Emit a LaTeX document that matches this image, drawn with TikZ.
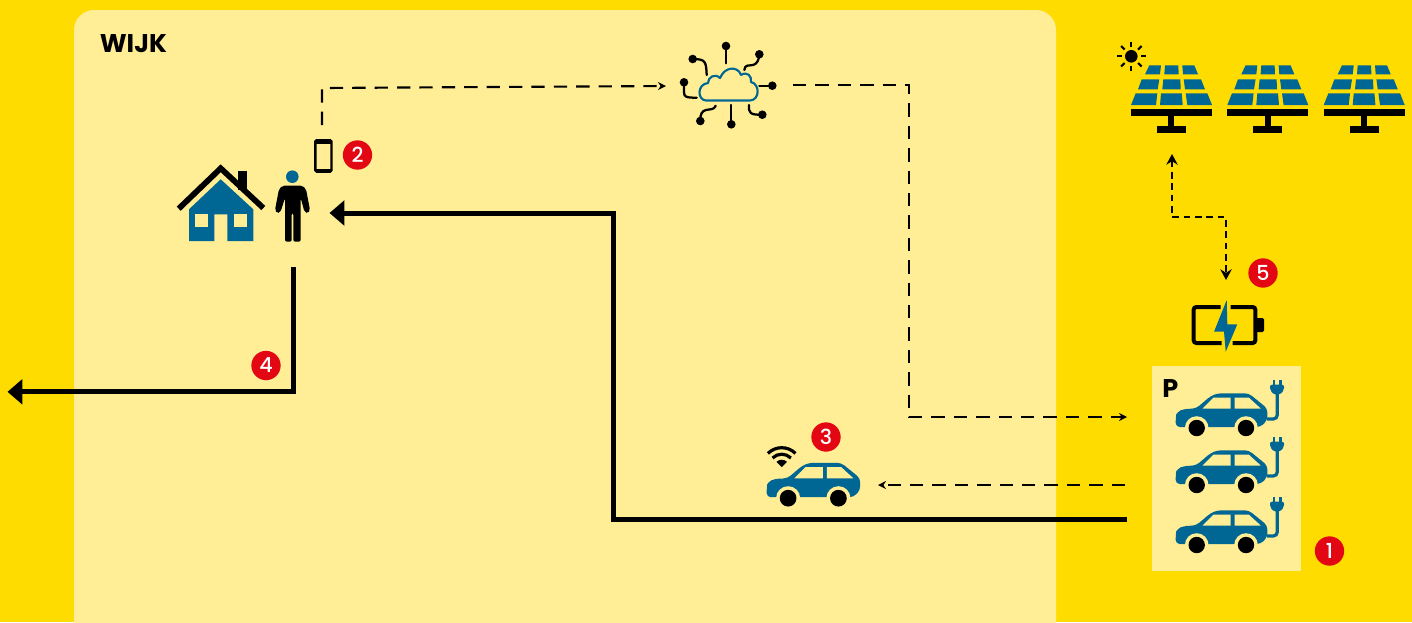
\documentclass[tikz,border=0pt]{standalone}
\usepackage{fontspec}
\setmainfont{Poppins}
\newfontfamily\markfont{Poppins Medium}
\usetikzlibrary{arrows.meta}
\definecolor{sunY}{HTML}{FFDC00}
\definecolor{paleY}{HTML}{FFEE95}
\definecolor{iconB}{HTML}{006794}
\definecolor{markR}{HTML}{E30613}
\tikzset{
  marker/.style={circle,fill=markR,text=white,minimum size=22pt,inner sep=0pt,font=\markfont\fontsize{15.5}{15.5}\selectfont},
  thickline/.style={line width=3.75pt,-{Triangle[length=11.2pt,width=18.5pt]}},
  dashline/.style={line width=1.6pt,dash pattern=on 10pt off 6.8pt,-{Stealth[length=6pt,width=6pt]}},
  dotline/.style={line width=1.7pt,dash pattern=on 5pt off 3.5pt,{Stealth[length=8pt,width=8.5pt]}-{Stealth[length=8pt,width=8.5pt]}},
  label/.style={font=\bfseries\fontsize{19.2}{20}\selectfont,inner sep=0pt},
  anchorpt/.style={inner sep=0pt,minimum size=0pt},
  car/.pic={
    \fill[iconB,rounded corners=3pt] (0,34) -- (0,24) -- (1,19) -- (8,16) -- (20.3,15.5) -- (35,3) -- (42,0.3) -- (73,0.3) -- (91.7,15.5) -- (91.7,27) -- (85,34) -- cycle;
    \fill[pic actions] (27,15.5) -- (38,4.5) -- (55,4.5) -- (55,15.5) -- cycle;
    \fill[pic actions] (59,4.5) -- (73,4.5) -- (85,15.5) -- (59,15.5) -- cycle;
    \fill[pic actions] (21,35) circle (11.8);
    \fill[pic actions] (70.3,35) circle (11.8);
    \fill[black] (21,35) circle (8.2);
    \fill[black] (70.3,35) circle (8.2);
  },
  plug/.pic={
    \draw[iconB,line width=2.4pt,rounded corners=3pt] (0,26) -- (10.3,26) -- (10.3,0);
    \fill[iconB,rounded corners=1.5pt] (3,-8.3) -- (17,-8.3) -- (17,-3) -- (13,1.7) -- (7,1.7) -- (3,-3) -- cycle;
    \fill[iconB] (5.5,-13.3) rectangle (8,-7);
    \fill[iconB] (12,-13.3) rectangle (14.5,-7);
  },
  panel/.pic={
    \fill[iconB] (18.3,0) -- (30,0) -- (29,9) -- (14,9) -- cycle;
    \fill[iconB] (34,0) -- (47.3,0) -- (47.7,9) -- (33.3,9) -- cycle;
    \fill[iconB] (51.3,0) -- (63.3,0) -- (67,9) -- (52,9) -- cycle;
    \fill[iconB] (10.7,14) -- (28.3,14) -- (26.7,24) -- (7,24) -- cycle;
    \fill[iconB] (32.3,14) -- (49.3,14) -- (49.7,24) -- (31.3,24) -- cycle;
    \fill[iconB] (52.7,14) -- (70,14) -- (74,24) -- (54,24) -- cycle;
    \fill[iconB] (4.7,28) -- (26.3,28) -- (25,39.7) -- (0,39.7) -- cycle;
    \fill[iconB] (30,28) -- (50.7,28) -- (51.7,39.7) -- (29,39.7) -- cycle;
    \fill[iconB] (54.7,28) -- (76.3,28) -- (81,39.7) -- (56.3,39.7) -- cycle;
    \fill[black] (0,44) rectangle (81,50.7);
    \fill[black] (37.3,50.7) rectangle (43.3,61.5);
    \fill[black] (26,61) rectangle (55,67.3);
  }
}
\begin{document}
\begin{tikzpicture}[x=0.75pt,y=-0.75pt]
\useasboundingbox (0,0) rectangle (1412,622);
\begin{scope}
\clip (0,0) rectangle (1412,622);
\fill[sunY] (0,0) rectangle (1412,622);
\fill[paleY,rounded corners=15pt] (74,10) rectangle (1056,660);
\fill[paleY] (1152,366) rectangle (1301,571);
\end{scope}

\node[label,anchor=west] (wijk) at (99.5,44) {WIJK};
\node[label,anchor=west] (parkP) at (1162,389) {P};

% house
\fill[iconB] (220.7,179.3) -- (253.3,209.3) -- (253.3,241) -- (227.3,241) -- (227.3,214.3) -- (214.3,214.3) -- (214.3,241) -- (189,241) -- (189,209.3) -- cycle;
\fill[paleY] (195.3,214.3) rectangle (208,227.3);
\fill[paleY] (234,214.3) rectangle (246.7,227.3);
\fill[black] (238.3,170.7) rectangle (246.7,190);
\draw[black,line width=4.3pt,miter limit=10] (178.7,208.7) -- (220.7,168.3) -- (263.3,208);
\node[anchorpt] (house) at (221,205) {};
% person
\fill[iconB] (292.3,176.7) circle (6.3);
\fill[black,rounded corners=1.5pt] (283,185.5) -- (302,185.5) -- (306,189) -- (310,210) -- (308,213.5) -- (304.5,212) -- (300.7,198) -- (300.7,241.7) -- (293.3,241.7) -- (293.3,213) -- (291.7,213) -- (291.7,241.7) -- (285,241.7) -- (285,198) -- (280.5,212) -- (277,213.5) -- (275,210) -- (279,189) -- cycle;
\node[anchorpt] (person) at (292,207) {};
% phone
\draw[black,line width=1.8pt,rounded corners=1pt] (315.3,140.2) rectangle (331.5,171.6);
\fill[black] (315.3,140.2) rectangle (331.5,143.5);
\fill[black] (315.3,169) rectangle (331.5,171.6);
\node[anchorpt] (phone) at (323.5,156) {};

% cloud
\draw[iconB,line width=1.6pt,line join=round] (706,100.5) .. controls (697,100) and (697,84) .. (708,83) .. controls (708,77) and (715,73) .. (720,78) .. controls (725,66) and (738,66) .. (741,75) .. controls (747,71) and (752,76) .. (751,82) .. controls (760,84) and (760,100) .. (750,100.5) -- cycle;
\node[anchorpt] (cloud) at (728,88) {};
\begin{scope}[black,line width=1.7pt,line cap=round]
\draw (726,63.3) -- (726,46); \fill (726,46) circle (4.3);
\draw (706.7,75) .. controls (706,62) and (706,59) .. (692.7,59); \fill (692.7,59) circle (4.3);
\draw (684,82.3) -- (684,92) .. controls (684,97) and (686,97.7) .. (696.7,97.7); \fill (684,82.3) circle (4.3);
\draw (744.3,70) .. controls (745,64) and (749,66) .. (753,65) .. controls (757,64) and (759,60) .. (759.3,54.3); \fill (759.3,54.3) circle (4.3);
\draw (759.3,85.7) -- (772.3,85.7); \fill (772.3,85.7) circle (4.3);
\draw (749,105) .. controls (748.5,113) and (750,115) .. (762.3,114.7); \fill (762.3,114.7) circle (4.3);
\draw (731.3,105) -- (731.3,124.3); \fill (731.3,124.3) circle (4.3);
\draw (715.7,105.7) .. controls (714,110) and (710,109) .. (706,110) .. controls (702,111) and (700,114) .. (700.3,121); \fill (700.3,121) circle (4.3);
\end{scope}

% solar panels
\pic at (1131,65.3) {panel};
\pic at (1227.3,65.3) {panel};
\pic at (1323.7,65.3) {panel};
\node[anchorpt] (solar) at (1172,150) {};
% sun
\fill[black] (1131.3,56.3) circle (6.3);
\foreach \a in {0,45,...,315}{\draw[black,line width=1.6pt] (1131.3,56.3)+(\a:9.5) -- +(\a:14.5);}

% battery
\draw[black,line width=3pt,rounded corners=2pt] (1220.7,307) -- (1193.7,307) -- (1193.7,343) -- (1221.7,343);
\draw[black,line width=3pt,rounded corners=2pt] (1230.7,307) -- (1255.3,307) -- (1255.3,343) -- (1232.7,343);
\fill[black,rounded corners=1pt] (1256,318) rectangle (1264,332);
\fill[iconB] (1226.7,300) -- (1214,331.7) -- (1224,331.7) -- (1225.7,351.7) -- (1237.3,324.3) -- (1227.3,324.3) -- cycle;
\node[anchorpt] (battery) at (1226,325) {};

% parked cars
\pic[fill=paleY] at (1175.7,393) {car};
\pic[fill=paleY] at (1175.7,450) {car};
\pic[fill=paleY] at (1175.7,510) {car};
\pic at (1267,393) {plug};
\pic at (1267,450) {plug};
\pic at (1267,510) {plug};
\node[anchorpt] (lot) at (1226,470) {};

% road car
\pic[fill=paleY,scale=1.02] at (766.7,462.5) {car};
\node[anchorpt] (roadcar) at (813,485) {};
% wifi
\coordinate (wifiC) at (781.7,467.2);
\draw[black,line width=2.4pt] ([shift={(-135:19.5)}]wifiC) arc (-135:-45:19.5);
\draw[black,line width=2.4pt] ([shift={(-135:13)}]wifiC) arc (-135:-45:13);
\fill[black] (wifiC) -- ++(-135:7.5) arc (-135:-45:7.5) -- cycle;

% connector ends
\coordinate (phoneTop) at (322,125);
\coordinate (cloudIn) at (666,86);
\coordinate (cloudOut) at (793,85);
\coordinate (lotIn) at (1127,417);
\coordinate (lotOutD) at (1125,485);
\coordinate (roadIn) at (878,485);
\coordinate (lotOutS) at (1127,519);
\coordinate (personIn) at (329.5,213);
\coordinate (personOut) at (293.5,267);
\coordinate (exitW) at (7.5,391.8);
\coordinate (solarEnd) at (1172,154);
\coordinate (battEnd) at (1226,280);

\draw[dashline] (phoneTop) -- (322,88) -- (cloudIn);
\draw[dashline] (cloudOut) -- (909,85) -- (909,417) -- (lotIn);
\draw[dashline] (lotOutD) -- (roadIn);
\draw[thickline] (lotOutS) -- (613,519) -- (613,213) -- (personIn);
\draw[thickline] (personOut) -- (293.5,391.8) -- (exitW);
\draw[dotline] (solarEnd) -- (1172,217) -- (1226,217) -- (battEnd);

\node[marker] (m1) at (1329.5,551) {1};
\node[marker] (m2) at (357.5,155) {2};
\node[marker] (m3) at (826,437) {3};
\node[marker] (m4) at (266,365.5) {4};
\node[marker] (m5) at (1263,273) {5};
\end{tikzpicture}
\end{document}
